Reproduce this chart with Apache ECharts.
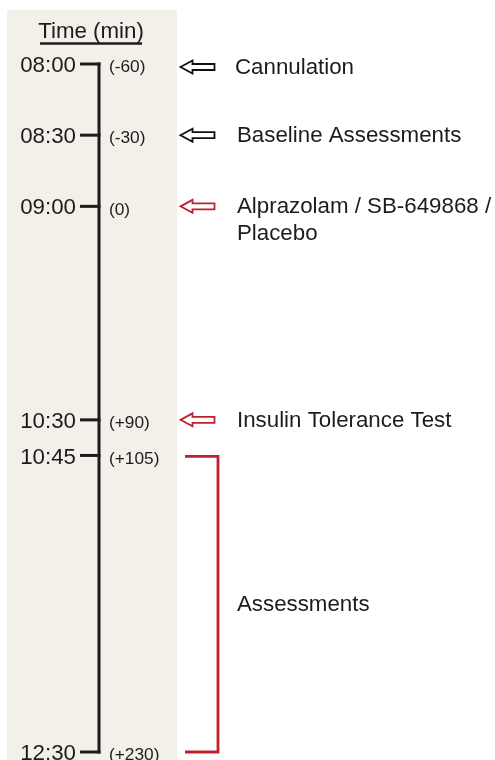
<!DOCTYPE html>
<html>
<head>
<meta charset="utf-8">
<script src="https://cdn.jsdelivr.net/npm/echarts@6/dist/echarts.min.js"></script>
<style>
html,body{margin:0;padding:0;background:#fff;}
#chart{width:495px;height:760px;}
</style>
</head>
<body>
<div id="chart"></div>
<script>
// ---- data ----
const axisTitle = 'Time (min)';
const clockLabels = ['08:00', '08:30', '09:00', '10:30', '10:45', '12:30'];
const minutes = [-60, -30, 0, 90, 105, 230];
const offsetLabels = ['(-60)', '(-30)', '(0)', '(+90)', '(+105)', '(+230)'];

const eventMinutes = [-60, -30, 0, 90];
const eventTexts = ['Cannulation', 'Baseline Assessments', 'Alprazolam / SB-649868 /\nPlacebo', 'Insulin Tolerance Test'];
const eventKinds = ['prep', 'prep', 'study', 'study'];

const assessmentRange = [105, 230];
const assessmentText = 'Assessments';

// ---- styles ----
const FONT = "'Liberation Sans', Arial, Helvetica, sans-serif";
const INK = '#1c1c1c';
const RED = '#c0202e';
const kindColor = { prep: '#111111', study: RED };
const BIG = 22.3;
const SMALL = 17.3;

const chart = echarts.init(document.getElementById('chart'));

function yOf(api, m) { return api.coord([0, m])[1]; }

const timelineData = minutes.map((m, i) => [0, m, i]);
const eventData = eventMinutes.map((m, i) => [0, m, i]);

chart.setOption({
  animation: false,
  backgroundColor: '#ffffff',
  grid: { left: 0, right: 0, top: 64, bottom: 8 },
  xAxis: { type: 'value', min: 0, max: 495, show: false },
  yAxis: { type: 'value', inverse: true, min: minutes[0], max: minutes[minutes.length - 1], show: false },
  graphic: [
    { type: 'rect', z: -10, shape: { x: 7, y: 10, width: 170, height: 750 }, style: { fill: '#f3f0e9' }, silent: true },
    { type: 'text', style: { text: axisTitle, x: 91, y: 32, align: 'center', verticalAlign: 'middle', fill: INK, fontSize: BIG, fontFamily: FONT } },
    { type: 'line', shape: { x1: 40, y1: 43.5, x2: 142, y2: 43.5 }, style: { stroke: INK, lineWidth: 2.5 } }
  ],
  series: [
    {
      type: 'custom',
      coordinateSystem: 'cartesian2d',
      data: timelineData,
      renderItem: function (params, api) {
        const i = api.value(2);
        const y = yOf(api, api.value(1));
        const children = [
          { type: 'line', shape: { x1: 80, y1: y, x2: 100.5, y2: y }, style: { stroke: INK, lineWidth: 3 } },
          { type: 'text', style: { text: clockLabels[i], x: 76, y: y + 2, align: 'right', verticalAlign: 'middle', fill: INK, fontSize: BIG, fontFamily: FONT } },
          { type: 'text', style: { text: offsetLabels[i], x: 109, y: y + 3.5, align: 'left', verticalAlign: 'middle', fill: INK, fontSize: SMALL, fontFamily: FONT } }
        ];
        if (i === 0) {
          const yEnd = yOf(api, minutes[minutes.length - 1]);
          children.push({ type: 'line', shape: { x1: 99, y1: y - 1.5, x2: 99, y2: yEnd + 1.5 }, style: { stroke: INK, lineWidth: 3 } });
        }
        return { type: 'group', children: children };
      }
    },
    {
      type: 'custom',
      coordinateSystem: 'cartesian2d',
      data: eventData,
      renderItem: function (params, api) {
        const i = api.value(2);
        const y = yOf(api, api.value(1)) + (i === 0 ? 3 : 0);
        const col = kindColor[eventKinds[i]];
        return {
          type: 'group',
          children: [
            { type: 'polygon', shape: { points: [[180.5, y], [192.5, y - 6.5], [192.5, y - 3], [214.5, y - 3], [214.5, y + 3], [192.5, y + 3], [192.5, y + 6.5]] },
              style: { fill: '#ffffff', stroke: col, lineWidth: 1.8 } },
            { type: 'text', style: { text: eventTexts[i], x: i === 0 ? 235 : 237, y: y - 13, align: 'left', verticalAlign: 'top', fill: INK, fontSize: BIG, fontFamily: FONT, lineHeight: 27 } }
          ]
        };
      }
    },
    {
      type: 'custom',
      coordinateSystem: 'cartesian2d',
      data: [[0, assessmentRange[0], assessmentRange[1]]],
      renderItem: function (params, api) {
        const y1 = yOf(api, api.value(1));
        const y2 = yOf(api, api.value(2));
        return {
          type: 'group',
          children: [
            { type: 'polyline', shape: { points: [[185, y1 + 1], [218, y1 + 1], [218, y2], [185, y2]] }, style: { stroke: RED, lineWidth: 2.8, fill: 'none' } },
            { type: 'text', style: { text: assessmentText, x: 237, y: (y1 + y2) / 2 + 1, align: 'left', verticalAlign: 'middle', fill: INK, fontSize: BIG, fontFamily: FONT } }
          ]
        };
      }
    }
  ]
});
</script>
</body>
</html>
